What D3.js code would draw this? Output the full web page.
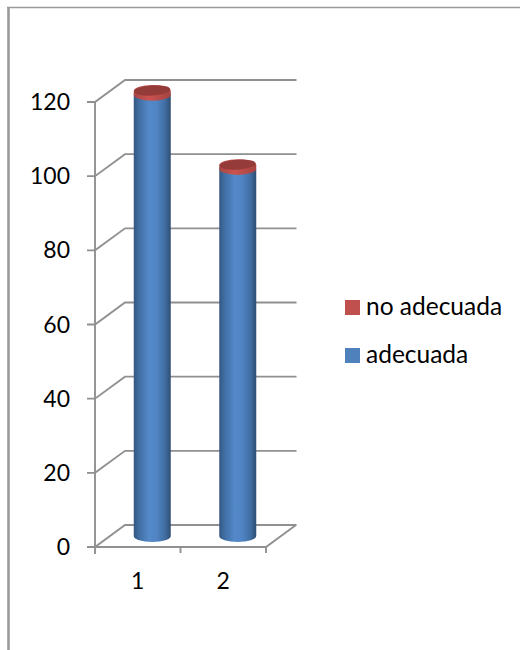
<!DOCTYPE html>
<html>
<head>
<meta charset="utf-8">
<script src="https://cdn.jsdelivr.net/npm/d3@7"></script>
<style>
html,body{margin:0;padding:0;background:#fff}
svg{display:block}
text{font-family:Lato,"Open Sans",sans-serif;fill:#000}
</style>
</head>
<body>
<script>
// Stacked cylinder chart data
const categories = ["1", "2"];
const adecuada = [119, 99];
const noAdecuada = [1, 1];
const yTicks = [0, 20, 40, 60, 80, 100, 120];
const legendItems = ["no adecuada", "adecuada"];

const W = 520, H = 650;
const gridColor = "#909090";
const blue = "#4f81bd", red = "#c0504d";

// Front plane of the plot box; the back wall is offset by the depth vector
const y = d3.scaleLinear().domain([0, 120]).range([547, 102]);
const x = d3.scaleBand().domain(categories).range([95, 266]);
const depth = {dx: 30, dy: -22};
const barW = 37, ry = 6;

const svg = d3.select("body").append("svg").attr("width", W).attr("height", H);
const defs = svg.append("defs");

function cylGradient(id, stops) {
  const g = defs.append("linearGradient").attr("id", id);
  stops.forEach(([o, c]) => g.append("stop").attr("offset", o).attr("stop-color", c));
}
cylGradient("cylBlue", [[0,"#34577f"],[0.14,"#406ea3"],[0.42,"#5489c9"],[0.62,"#5084c3"],[0.85,"#406da2"],[1,"#2e4d72"]]);
cylGradient("cylRed", [[0,"#a84543"],[0.4,"#c9534f"],[1,"#a64341"]]);

// Outer frame, open on the right and bottom
const frame = svg.append("g").attr("stroke", "#9a9a9a");
frame.append("path").attr("d", "M8.5,650V7").attr("stroke-width", 2.6);
frame.append("path").attr("d", "M7,7.5H520").attr("stroke-width", 1.6);

// Walls and floor
const grid = svg.append("g").attr("fill", "none").attr("stroke", gridColor).attr("stroke-width", 1.9);
yTicks.forEach(t => {
  const yy = y(t);
  grid.append("path").attr("d",
    `M87,${yy}H${x.range()[0]}L${x.range()[0] + depth.dx},${yy + depth.dy}H${x.range()[1] + depth.dx + 0.5}`);
});
grid.append("path").attr("d", `M${x.range()[0]},${y(120)}V${y(0) + 7}`);
grid.append("path").attr("d",
  `M${x.range()[0]},${y(0)}H${x.range()[1]}L${x.range()[1] + depth.dx},${y(0) + depth.dy}`);
categories.forEach(c => {
  const xx = x(c) + x.bandwidth();
  grid.append("path").attr("d", `M${xx},${y(0)}v6`);
});

// Axis labels
svg.append("g").selectAll("text").data(yTicks).join("text")
  .attr("x", 70).attr("y", d => y(d) + 8)
  .attr("text-anchor", "end").attr("font-size", 23).text(d => d);
svg.append("g").selectAll("text").data(categories).join("text")
  .attr("x", d => x(d) + x.bandwidth() / 2)
  .attr("y", 589).attr("text-anchor", "middle").attr("font-size", 23).text(d => d);

// Column position sits mid-way through the depth of the box
const cx = c => x(c) + x.bandwidth() / 2 + depth.dx / 2 - 0.5;
const lift = depth.dy / 2;

function cylinder(g, c, from, to, fill) {
  const l = cx(c) - barW / 2, r = cx(c) + barW / 2;
  const y0 = y(from) + lift, y1 = y(to) + lift;
  g.append("path")
    .attr("d", `M${l},${y1}V${y0}A${barW / 2},${ry} 0 0 0 ${r},${y0}V${y1}A${barW / 2},${ry} 0 0 0 ${l},${y1}Z`)
    .attr("fill", fill);
}

const bars = svg.append("g");
categories.forEach((c, i) => {
  const top = adecuada[i] + noAdecuada[i];
  cylinder(bars, c, 0, adecuada[i], "url(#cylBlue)");
  cylinder(bars, c, adecuada[i], top, "url(#cylRed)");
  bars.append("ellipse")
    .attr("cx", cx(c)).attr("cy", y(top) + lift - 0.5)
    .attr("rx", barW / 2 - 0.5).attr("ry", ry - 1).attr("fill", "#953b39")
    .attr("transform", `rotate(-4 ${cx(c)} ${y(top) + lift})`);
});

// Legend
const legend = svg.append("g");
const legendY = d3.scalePoint().domain(legendItems).range([307.5, 355.5]);
const legendColor = d3.scaleOrdinal().domain(legendItems).range([red, blue]);
legendItems.forEach(name => {
  legend.append("rect").attr("x", 345).attr("y", legendY(name) - 7.5)
    .attr("width", 15).attr("height", 15).attr("fill", legendColor(name));
  legend.append("text").attr("x", 366).attr("y", legendY(name) + 7.5)
    .attr("font-size", 24.5).text(name);
});
</script>
</body>
</html>
